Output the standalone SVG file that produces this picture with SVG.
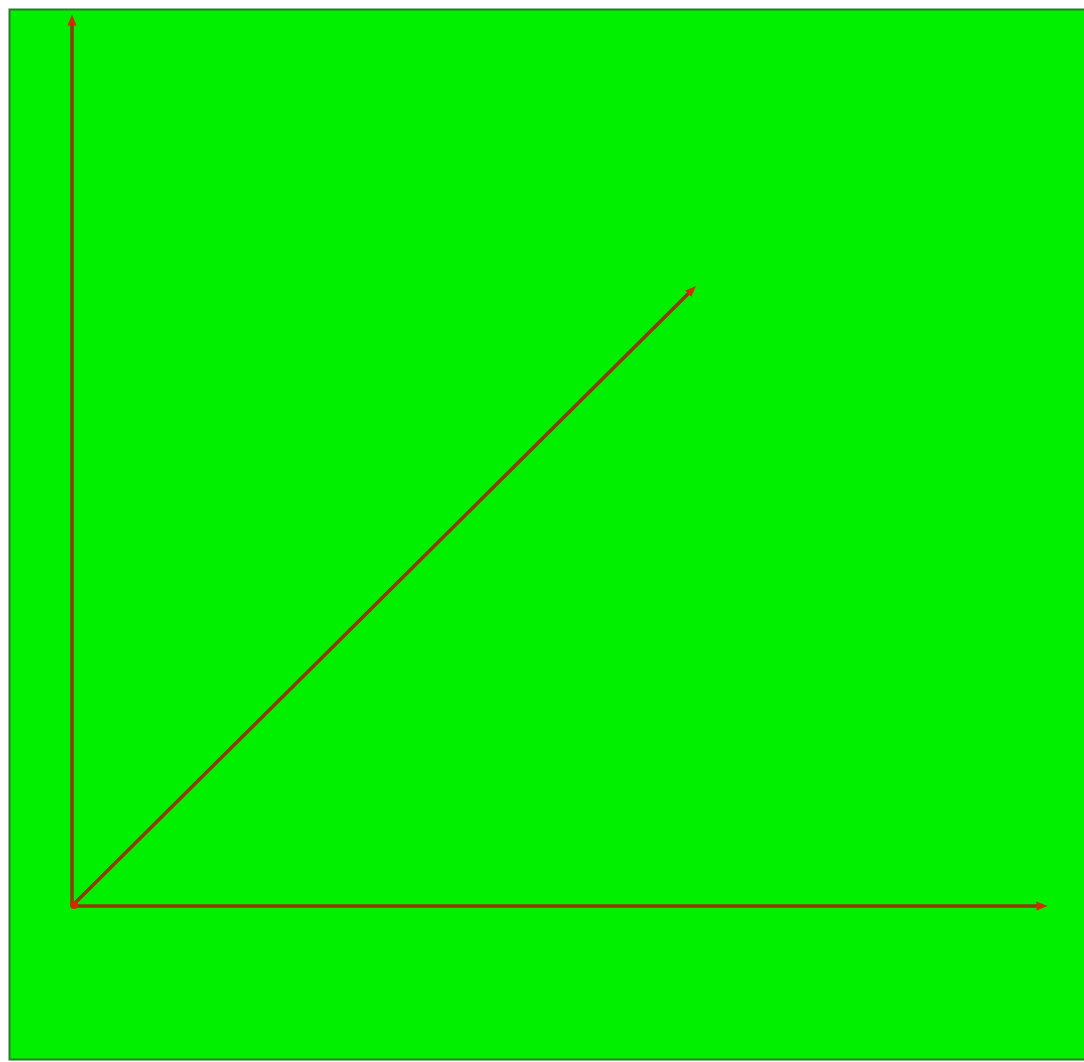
<svg xmlns="http://www.w3.org/2000/svg" width="1084" height="1062" viewBox="0 0 1084 1062">
<style>
.ax{stroke:#8f3c00;stroke-width:3.5;fill:none;marker-end:url(#ah)}
</style>
<defs>
<marker id="ah" viewBox="0 0 10 10" refX="5" refY="5" markerWidth="3.2" markerHeight="3.2" orient="auto" markerUnits="strokeWidth">
<path d="M0,1 L10,5 L0,9 Z" fill="#d42a00"/>
</marker>
</defs>
<rect x="0" y="0" width="1084" height="1062" fill="#ffffff"/>
<rect x="9.5" y="9.5" width="1080" height="1050" fill="#00f000" stroke="#2a7a2a" stroke-width="2"/>
<g id="connectors">
<line class="ax" x1="72" y1="906" x2="72" y2="20"/>
<line class="ax" x1="72" y1="906" x2="1042" y2="906"/>
<line class="ax" x1="72" y1="906" x2="692" y2="290"/>
<circle cx="74" cy="905" r="4" fill="#d42a00"/>
</g>
</svg>
